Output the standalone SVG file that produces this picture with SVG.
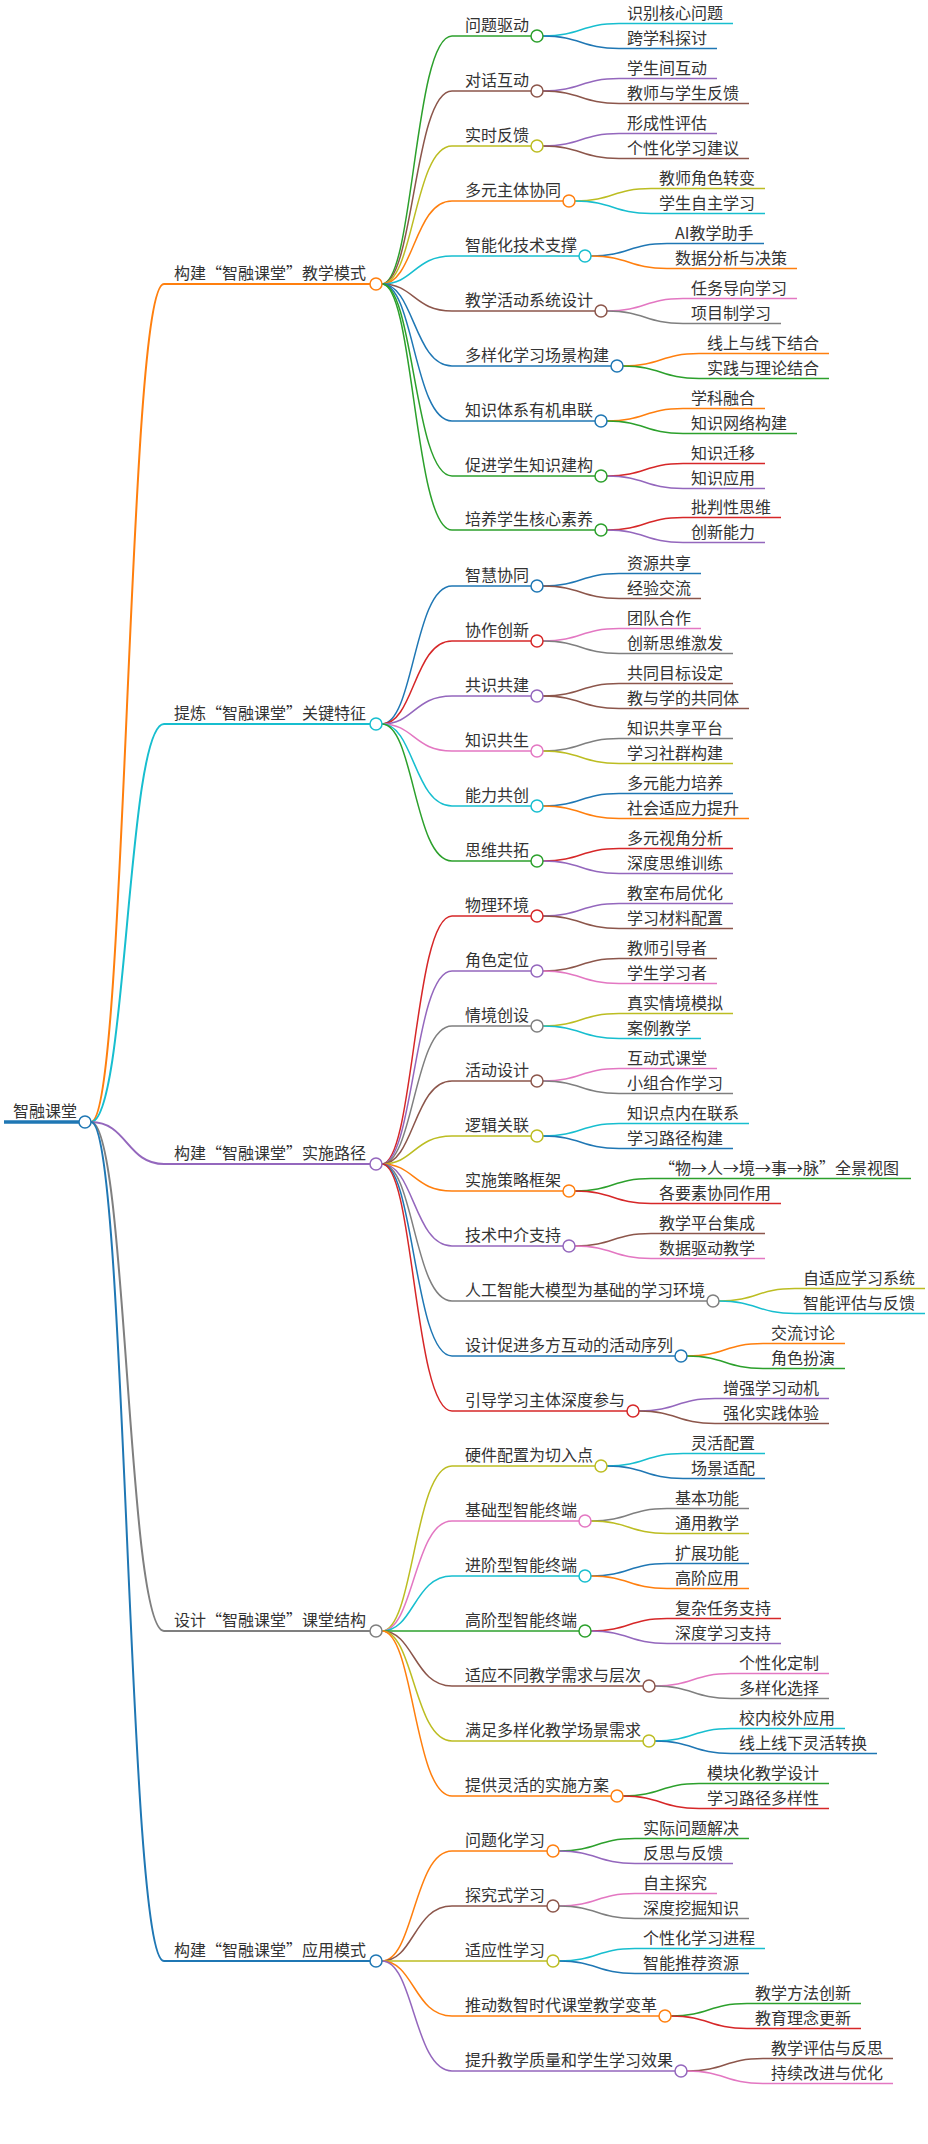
<svg xmlns="http://www.w3.org/2000/svg" width="928" height="2144" viewBox="0 0 928 2144">
<style>
path{fill:none;stroke-width:1.5}
circle{fill:#fff;stroke-width:1.5}
text{font-family:"Noto Sans CJK SC","Noto Sans",sans-serif;font-size:16px;fill:#333}
.bl{stroke:#1f77b4}.or{stroke:#ff7f0e}.gr{stroke:#2ca02c}.rd{stroke:#d62728}.pu{stroke:#9467bd}
.br{stroke:#8c564b}.pk{stroke:#e377c2}.gy{stroke:#7f7f7f}.ol{stroke:#bcbd22}.cy{stroke:#17becf}
.l1{stroke-width:2}.rt{stroke-width:3.5}
</style>
<rect width="928" height="2144" fill="#fff"/>
<g id="connectors">
<path class="bl rt" d="M4,1122 H79"/>
<path class="or l1" d="M91,1122 C127,1122 127,284 164,284 H370"/>
<path class="cy l1" d="M91,1122 C127,1122 127,724 164,724 H370"/>
<path class="pu l1" d="M91,1122 C127,1122 127,1164 164,1164 H370"/>
<path class="gy l1" d="M91,1122 C127,1122 127,1631 164,1631 H370"/>
<path class="bl l1" d="M91,1122 C127,1122 127,1961 164,1961 H370"/>
<!-- sec1 -->
<path class="gr" d="M382,284 C414,284 414,36 452,36 H531"/>
<path class="cy" d="M543,36 C581,36 581,23.5 619,23.5 H733"/>
<path class="bl" d="M543,36 C581,36 581,48.5 619,48.5 H717"/>
<path class="br" d="M382,284 C414,284 414,91 452,91 H531"/>
<path class="pu" d="M543,91 C581,91 581,78.5 619,78.5 H717"/>
<path class="br" d="M543,91 C581,91 581,103.5 619,103.5 H749"/>
<path class="ol" d="M382,284 C414,284 414,146 452,146 H531"/>
<path class="pu" d="M543,146 C581,146 581,133.5 619,133.5 H717"/>
<path class="br" d="M543,146 C581,146 581,158.5 619,158.5 H749"/>
<path class="or" d="M382,284 C414,284 414,201 452,201 H563"/>
<path class="ol" d="M575,201 C613,201 613,188.5 651,188.5 H765"/>
<path class="cy" d="M575,201 C613,201 613,213.5 651,213.5 H765"/>
<path class="cy" d="M382,284 C414,284 414,256 452,256 H579"/>
<path class="bl" d="M591,256 C629,256 629,243.5 667,243.5 H764"/>
<path class="or" d="M591,256 C629,256 629,268.5 667,268.5 H797"/>
<path class="br" d="M382,284 C414,284 414,311 452,311 H595"/>
<path class="pk" d="M607,311 C645,311 645,298.5 683,298.5 H797"/>
<path class="gy" d="M607,311 C645,311 645,323.5 683,323.5 H781"/>
<path class="bl" d="M382,284 C414,284 414,366 452,366 H611"/>
<path class="or" d="M623,366 C661,366 661,353.5 699,353.5 H829"/>
<path class="gr" d="M623,366 C661,366 661,378.5 699,378.5 H829"/>
<path class="bl" d="M382,284 C414,284 414,421 452,421 H595"/>
<path class="or" d="M607,421 C645,421 645,408.5 683,408.5 H765"/>
<path class="gr" d="M607,421 C645,421 645,433.5 683,433.5 H797"/>
<path class="gr" d="M382,284 C414,284 414,476 452,476 H595"/>
<path class="rd" d="M607,476 C645,476 645,463.5 683,463.5 H765"/>
<path class="pu" d="M607,476 C645,476 645,488.5 683,488.5 H765"/>
<path class="gr" d="M382,284 C414,284 414,530 452,530 H595"/>
<path class="rd" d="M607,530 C645,530 645,517.5 683,517.5 H781"/>
<path class="pu" d="M607,530 C645,530 645,542.5 683,542.5 H765"/>
<!-- sec2 -->
<path class="bl" d="M382,724 C414,724 414,586 452,586 H531"/>
<path class="bl" d="M543,586 C581,586 581,573.5 619,573.5 H701"/>
<path class="br" d="M543,586 C581,586 581,598.5 619,598.5 H701"/>
<path class="rd" d="M382,724 C414,724 414,641 452,641 H531"/>
<path class="pk" d="M543,641 C581,641 581,628.5 619,628.5 H701"/>
<path class="gy" d="M543,641 C581,641 581,653.5 619,653.5 H733"/>
<path class="pu" d="M382,724 C414,724 414,696 452,696 H531"/>
<path class="br" d="M543,696 C581,696 581,683.5 619,683.5 H733"/>
<path class="br" d="M543,696 C581,696 581,708.5 619,708.5 H749"/>
<path class="pk" d="M382,724 C414,724 414,751 452,751 H531"/>
<path class="gy" d="M543,751 C581,751 581,738.5 619,738.5 H733"/>
<path class="ol" d="M543,751 C581,751 581,763.5 619,763.5 H733"/>
<path class="cy" d="M382,724 C414,724 414,806 452,806 H531"/>
<path class="bl" d="M543,806 C581,806 581,793.5 619,793.5 H733"/>
<path class="or" d="M543,806 C581,806 581,818.5 619,818.5 H749"/>
<path class="gr" d="M382,724 C414,724 414,861 452,861 H531"/>
<path class="rd" d="M543,861 C581,861 581,848.5 619,848.5 H733"/>
<path class="pu" d="M543,861 C581,861 581,873.5 619,873.5 H733"/>
<!-- sec3 -->
<path class="rd" d="M382,1164 C414,1164 414,916 452,916 H531"/>
<path class="pu" d="M543,916 C581,916 581,903.5 619,903.5 H733"/>
<path class="br" d="M543,916 C581,916 581,928.5 619,928.5 H733"/>
<path class="pu" d="M382,1164 C414,1164 414,971 452,971 H531"/>
<path class="br" d="M543,971 C581,971 581,958.5 619,958.5 H717"/>
<path class="pk" d="M543,971 C581,971 581,983.5 619,983.5 H717"/>
<path class="gy" d="M382,1164 C414,1164 414,1026 452,1026 H531"/>
<path class="ol" d="M543,1026 C581,1026 581,1013.5 619,1013.5 H733"/>
<path class="cy" d="M543,1026 C581,1026 581,1038.5 619,1038.5 H701"/>
<path class="br" d="M382,1164 C414,1164 414,1081 452,1081 H531"/>
<path class="pk" d="M543,1081 C581,1081 581,1068.5 619,1068.5 H717"/>
<path class="gy" d="M543,1081 C581,1081 581,1093.5 619,1093.5 H733"/>
<path class="ol" d="M382,1164 C414,1164 414,1136 452,1136 H531"/>
<path class="cy" d="M543,1136 C581,1136 581,1123.5 619,1123.5 H749"/>
<path class="bl" d="M543,1136 C581,1136 581,1148.5 619,1148.5 H733"/>
<path class="or" d="M382,1164 C414,1164 414,1191 452,1191 H563"/>
<path class="gr" d="M575,1191 C613,1191 613,1178.5 651,1178.5 H911"/>
<path class="rd" d="M575,1191 C613,1191 613,1203.5 651,1203.5 H781"/>
<path class="pu" d="M382,1164 C414,1164 414,1246 452,1246 H563"/>
<path class="br" d="M575,1246 C613,1246 613,1233.5 651,1233.5 H765"/>
<path class="pk" d="M575,1246 C613,1246 613,1258.5 651,1258.5 H765"/>
<path class="gy" d="M382,1164 C414,1164 414,1301 452,1301 H707"/>
<path class="ol" d="M719,1301 C757,1301 757,1288.5 795,1288.5 H925"/>
<path class="cy" d="M719,1301 C757,1301 757,1313.5 795,1313.5 H925"/>
<path class="bl" d="M382,1164 C414,1164 414,1356 452,1356 H675"/>
<path class="or" d="M687,1356 C725,1356 725,1343.5 763,1343.5 H845"/>
<path class="gr" d="M687,1356 C725,1356 725,1368.5 763,1368.5 H845"/>
<path class="rd" d="M382,1164 C414,1164 414,1411 452,1411 H627"/>
<path class="pu" d="M639,1411 C677,1411 677,1398.5 715,1398.5 H829"/>
<path class="br" d="M639,1411 C677,1411 677,1423.5 715,1423.5 H829"/>
<!-- sec4 -->
<path class="ol" d="M382,1631 C414,1631 414,1466 452,1466 H595"/>
<path class="cy" d="M607,1466 C645,1466 645,1453.5 683,1453.5 H765"/>
<path class="bl" d="M607,1466 C645,1466 645,1478.5 683,1478.5 H765"/>
<path class="pk" d="M382,1631 C414,1631 414,1521 452,1521 H579"/>
<path class="gy" d="M591,1521 C629,1521 629,1508.5 667,1508.5 H749"/>
<path class="ol" d="M591,1521 C629,1521 629,1533.5 667,1533.5 H749"/>
<path class="cy" d="M382,1631 C414,1631 414,1576 452,1576 H579"/>
<path class="bl" d="M591,1576 C629,1576 629,1563.5 667,1563.5 H749"/>
<path class="or" d="M591,1576 C629,1576 629,1588.5 667,1588.5 H749"/>
<path class="gr" d="M382,1631 H579"/>
<path class="rd" d="M591,1631 C629,1631 629,1618.5 667,1618.5 H781"/>
<path class="pu" d="M591,1631 C629,1631 629,1643.5 667,1643.5 H781"/>
<path class="br" d="M382,1631 C414,1631 414,1686 452,1686 H643"/>
<path class="pk" d="M655,1686 C693,1686 693,1673.5 731,1673.5 H829"/>
<path class="gy" d="M655,1686 C693,1686 693,1698.5 731,1698.5 H829"/>
<path class="ol" d="M382,1631 C414,1631 414,1741 452,1741 H643"/>
<path class="cy" d="M655,1741 C693,1741 693,1728.5 731,1728.5 H845"/>
<path class="bl" d="M655,1741 C693,1741 693,1753.5 731,1753.5 H877"/>
<path class="or" d="M382,1631 C414,1631 414,1796 452,1796 H611"/>
<path class="gr" d="M623,1796 C661,1796 661,1783.5 699,1783.5 H829"/>
<path class="rd" d="M623,1796 C661,1796 661,1808.5 699,1808.5 H829"/>
<!-- sec5 -->
<path class="or" d="M382,1961 C414,1961 414,1851 452,1851 H547"/>
<path class="gr" d="M559,1851 C597,1851 597,1838.5 635,1838.5 H749"/>
<path class="pu" d="M559,1851 C597,1851 597,1863.5 635,1863.5 H733"/>
<path class="br" d="M382,1961 C414,1961 414,1906 452,1906 H547"/>
<path class="pk" d="M559,1906 C597,1906 597,1893.5 635,1893.5 H717"/>
<path class="gy" d="M559,1906 C597,1906 597,1918.5 635,1918.5 H749"/>
<path class="ol" d="M382,1961 H547"/>
<path class="cy" d="M559,1961 C597,1961 597,1948.5 635,1948.5 H765"/>
<path class="bl" d="M559,1961 C597,1961 597,1973.5 635,1973.5 H749"/>
<path class="or" d="M382,1961 C414,1961 414,2016 452,2016 H659"/>
<path class="gr" d="M671,2016 C709,2016 709,2003.5 747,2003.5 H861"/>
<path class="rd" d="M671,2016 C709,2016 709,2028.5 747,2028.5 H861"/>
<path class="pu" d="M382,1961 C414,1961 414,2071 452,2071 H675"/>
<path class="br" d="M687,2071 C725,2071 725,2058.5 763,2058.5 H893"/>
<path class="pk" d="M687,2071 C725,2071 725,2083.5 763,2083.5 H893"/>
</g>
<g id="root"><text x="13" y="1117">智融课堂</text><circle class="bl" cx="85" cy="1122" r="6"/></g>
<g id="s1"><text x="174" y="279">构建“智融课堂”教学模式</text><circle class="or" cx="376" cy="284" r="6"/>
<g id="s1n1"><text x="465" y="31">问题驱动</text><circle class="gr" cx="537" cy="36" r="6"/><text x="627" y="18.5">识别核心问题</text><text x="627" y="43.5">跨学科探讨</text></g>
<g id="s1n2"><text x="465" y="86">对话互动</text><circle class="br" cx="537" cy="91" r="6"/><text x="627" y="73.5">学生间互动</text><text x="627" y="98.5">教师与学生反馈</text></g>
<g id="s1n3"><text x="465" y="141">实时反馈</text><circle class="ol" cx="537" cy="146" r="6"/><text x="627" y="128.5">形成性评估</text><text x="627" y="153.5">个性化学习建议</text></g>
<g id="s1n4"><text x="465" y="196">多元主体协同</text><circle class="or" cx="569" cy="201" r="6"/><text x="659" y="183.5">教师角色转变</text><text x="659" y="208.5">学生自主学习</text></g>
<g id="s1n5"><text x="465" y="251">智能化技术支撑</text><circle class="cy" cx="585" cy="256" r="6"/><text x="675" y="238.5">AI教学助手</text><text x="675" y="263.5">数据分析与决策</text></g>
<g id="s1n6"><text x="465" y="306">教学活动系统设计</text><circle class="br" cx="601" cy="311" r="6"/><text x="691" y="293.5">任务导向学习</text><text x="691" y="318.5">项目制学习</text></g>
<g id="s1n7"><text x="465" y="361">多样化学习场景构建</text><circle class="bl" cx="617" cy="366" r="6"/><text x="707" y="348.5">线上与线下结合</text><text x="707" y="373.5">实践与理论结合</text></g>
<g id="s1n8"><text x="465" y="416">知识体系有机串联</text><circle class="bl" cx="601" cy="421" r="6"/><text x="691" y="403.5">学科融合</text><text x="691" y="428.5">知识网络构建</text></g>
<g id="s1n9"><text x="465" y="471">促进学生知识建构</text><circle class="gr" cx="601" cy="476" r="6"/><text x="691" y="458.5">知识迁移</text><text x="691" y="483.5">知识应用</text></g>
<g id="s1n10"><text x="465" y="525">培养学生核心素养</text><circle class="gr" cx="601" cy="530" r="6"/><text x="691" y="512.5">批判性思维</text><text x="691" y="537.5">创新能力</text></g>
</g>
<g id="s2"><text x="174" y="719">提炼“智融课堂”关键特征</text><circle class="cy" cx="376" cy="724" r="6"/>
<g id="s2n1"><text x="465" y="581">智慧协同</text><circle class="bl" cx="537" cy="586" r="6"/><text x="627" y="568.5">资源共享</text><text x="627" y="593.5">经验交流</text></g>
<g id="s2n2"><text x="465" y="636">协作创新</text><circle class="rd" cx="537" cy="641" r="6"/><text x="627" y="623.5">团队合作</text><text x="627" y="648.5">创新思维激发</text></g>
<g id="s2n3"><text x="465" y="691">共识共建</text><circle class="pu" cx="537" cy="696" r="6"/><text x="627" y="678.5">共同目标设定</text><text x="627" y="703.5">教与学的共同体</text></g>
<g id="s2n4"><text x="465" y="746">知识共生</text><circle class="pk" cx="537" cy="751" r="6"/><text x="627" y="733.5">知识共享平台</text><text x="627" y="758.5">学习社群构建</text></g>
<g id="s2n5"><text x="465" y="801">能力共创</text><circle class="cy" cx="537" cy="806" r="6"/><text x="627" y="788.5">多元能力培养</text><text x="627" y="813.5">社会适应力提升</text></g>
<g id="s2n6"><text x="465" y="856">思维共拓</text><circle class="gr" cx="537" cy="861" r="6"/><text x="627" y="843.5">多元视角分析</text><text x="627" y="868.5">深度思维训练</text></g>
</g>
<g id="s3"><text x="174" y="1159">构建“智融课堂”实施路径</text><circle class="pu" cx="376" cy="1164" r="6"/>
<g id="s3n1"><text x="465" y="911">物理环境</text><circle class="rd" cx="537" cy="916" r="6"/><text x="627" y="898.5">教室布局优化</text><text x="627" y="923.5">学习材料配置</text></g>
<g id="s3n2"><text x="465" y="966">角色定位</text><circle class="pu" cx="537" cy="971" r="6"/><text x="627" y="953.5">教师引导者</text><text x="627" y="978.5">学生学习者</text></g>
<g id="s3n3"><text x="465" y="1021">情境创设</text><circle class="gy" cx="537" cy="1026" r="6"/><text x="627" y="1008.5">真实情境模拟</text><text x="627" y="1033.5">案例教学</text></g>
<g id="s3n4"><text x="465" y="1076">活动设计</text><circle class="br" cx="537" cy="1081" r="6"/><text x="627" y="1063.5">互动式课堂</text><text x="627" y="1088.5">小组合作学习</text></g>
<g id="s3n5"><text x="465" y="1131">逻辑关联</text><circle class="ol" cx="537" cy="1136" r="6"/><text x="627" y="1118.5">知识点内在联系</text><text x="627" y="1143.5">学习路径构建</text></g>
<g id="s3n6"><text x="465" y="1186">实施策略框架</text><circle class="or" cx="569" cy="1191" r="6"/><text x="659" y="1173.5">“物→人→境→事→脉”全景视图</text><text x="659" y="1198.5">各要素协同作用</text></g>
<g id="s3n7"><text x="465" y="1241">技术中介支持</text><circle class="pu" cx="569" cy="1246" r="6"/><text x="659" y="1228.5">教学平台集成</text><text x="659" y="1253.5">数据驱动教学</text></g>
<g id="s3n8"><text x="465" y="1296">人工智能大模型为基础的学习环境</text><circle class="gy" cx="713" cy="1301" r="6"/><text x="803" y="1283.5">自适应学习系统</text><text x="803" y="1308.5">智能评估与反馈</text></g>
<g id="s3n9"><text x="465" y="1351">设计促进多方互动的活动序列</text><circle class="bl" cx="681" cy="1356" r="6"/><text x="771" y="1338.5">交流讨论</text><text x="771" y="1363.5">角色扮演</text></g>
<g id="s3n10"><text x="465" y="1406">引导学习主体深度参与</text><circle class="rd" cx="633" cy="1411" r="6"/><text x="723" y="1393.5">增强学习动机</text><text x="723" y="1418.5">强化实践体验</text></g>
</g>
<g id="s4"><text x="174" y="1626">设计“智融课堂”课堂结构</text><circle class="gy" cx="376" cy="1631" r="6"/>
<g id="s4n1"><text x="465" y="1461">硬件配置为切入点</text><circle class="ol" cx="601" cy="1466" r="6"/><text x="691" y="1448.5">灵活配置</text><text x="691" y="1473.5">场景适配</text></g>
<g id="s4n2"><text x="465" y="1516">基础型智能终端</text><circle class="pk" cx="585" cy="1521" r="6"/><text x="675" y="1503.5">基本功能</text><text x="675" y="1528.5">通用教学</text></g>
<g id="s4n3"><text x="465" y="1571">进阶型智能终端</text><circle class="cy" cx="585" cy="1576" r="6"/><text x="675" y="1558.5">扩展功能</text><text x="675" y="1583.5">高阶应用</text></g>
<g id="s4n4"><text x="465" y="1626">高阶型智能终端</text><circle class="gr" cx="585" cy="1631" r="6"/><text x="675" y="1613.5">复杂任务支持</text><text x="675" y="1638.5">深度学习支持</text></g>
<g id="s4n5"><text x="465" y="1681">适应不同教学需求与层次</text><circle class="br" cx="649" cy="1686" r="6"/><text x="739" y="1668.5">个性化定制</text><text x="739" y="1693.5">多样化选择</text></g>
<g id="s4n6"><text x="465" y="1736">满足多样化教学场景需求</text><circle class="ol" cx="649" cy="1741" r="6"/><text x="739" y="1723.5">校内校外应用</text><text x="739" y="1748.5">线上线下灵活转换</text></g>
<g id="s4n7"><text x="465" y="1791">提供灵活的实施方案</text><circle class="or" cx="617" cy="1796" r="6"/><text x="707" y="1778.5">模块化教学设计</text><text x="707" y="1803.5">学习路径多样性</text></g>
</g>
<g id="s5"><text x="174" y="1956">构建“智融课堂”应用模式</text><circle class="bl" cx="376" cy="1961" r="6"/>
<g id="s5n1"><text x="465" y="1846">问题化学习</text><circle class="or" cx="553" cy="1851" r="6"/><text x="643" y="1833.5">实际问题解决</text><text x="643" y="1858.5">反思与反馈</text></g>
<g id="s5n2"><text x="465" y="1901">探究式学习</text><circle class="br" cx="553" cy="1906" r="6"/><text x="643" y="1888.5">自主探究</text><text x="643" y="1913.5">深度挖掘知识</text></g>
<g id="s5n3"><text x="465" y="1956">适应性学习</text><circle class="ol" cx="553" cy="1961" r="6"/><text x="643" y="1943.5">个性化学习进程</text><text x="643" y="1968.5">智能推荐资源</text></g>
<g id="s5n4"><text x="465" y="2011">推动数智时代课堂教学变革</text><circle class="or" cx="665" cy="2016" r="6"/><text x="755" y="1998.5">教学方法创新</text><text x="755" y="2023.5">教育理念更新</text></g>
<g id="s5n5"><text x="465" y="2066">提升教学质量和学生学习效果</text><circle class="pu" cx="681" cy="2071" r="6"/><text x="771" y="2053.5">教学评估与反思</text><text x="771" y="2078.5">持续改进与优化</text></g>
</g>
</svg>
